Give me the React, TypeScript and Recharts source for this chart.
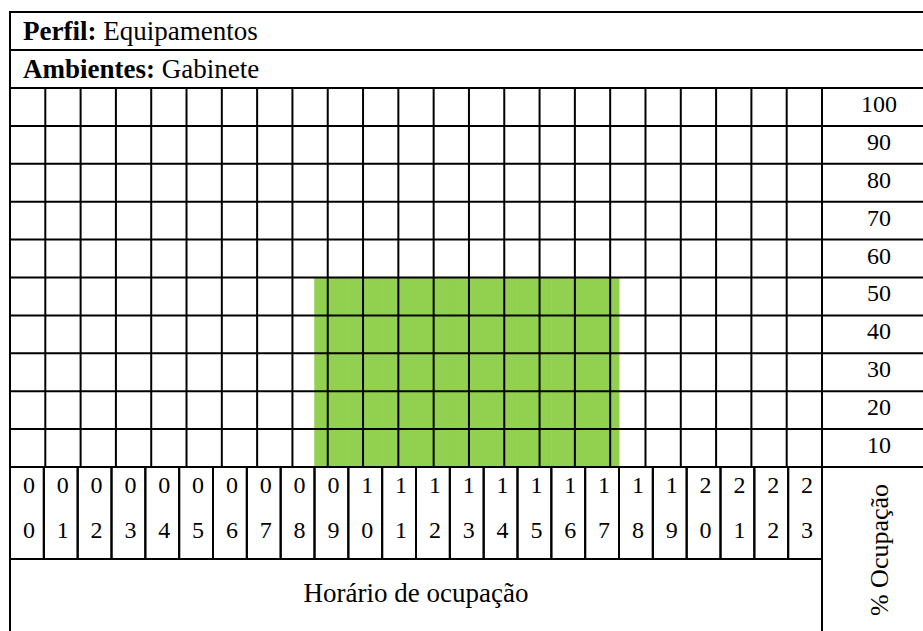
import React from "react";
import { BarChart, Bar, XAxis, YAxis, ReferenceLine } from "recharts";

const hours = [
  "00", "01", "02", "03", "04", "05", "06", "07", "08", "09", "10", "11",
  "12", "13", "14", "15", "16", "17", "18", "19", "20", "21", "22", "23",
];
const occupation = [
  0, 0, 0, 0, 0, 0, 0, 0, 0, 50, 50, 50,
  50, 50, 50, 50, 50, 50, 0, 0, 0, 0, 0, 0,
];
const percentTicks = [0, 10, 20, 30, 40, 50, 60, 70, 80, 90, 100];

const data = hours.map((hour, i) => ({ hour, value: occupation[i] }));
const hourEdges = [...hours.map((_, i) => i), hours.length];

const W = 923;
const H = 631;
const PLOT_LEFT = 10;
const PLOT_TOP = 88;
const PLOT_RIGHT = 822;
const PLOT_BOTTOM = 467;
const LABEL_ROWS_H = 92;
const FRAME_RIGHT = 936;
const BAND = (PLOT_RIGHT - PLOT_LEFT) / hours.length;
const ROW_H = (PLOT_BOTTOM - PLOT_TOP) / 10;
const FONT = '"Liberation Serif", "Times New Roman", serif';
const FS = 24;
const TEXT_FS = 27;

function HourTick({ x, payload }: any) {
  const [a, b] = String(payload.value).split("");
  return (
    <g>
      <rect
        x={x - BAND / 2}
        y={PLOT_BOTTOM}
        width={BAND}
        height={LABEL_ROWS_H}
        fill="none"
        stroke="#000"
        strokeWidth={2}
      />
      <text x={x + 2} y={PLOT_BOTTOM + 26} textAnchor="middle" fontSize={FS} fontFamily={FONT} fill="#000">
        {a}
      </text>
      <text x={x + 2} y={PLOT_BOTTOM + 71} textAnchor="middle" fontSize={FS} fontFamily={FONT} fill="#000">
        {b}
      </text>
    </g>
  );
}

function PercentTick({ y, payload }: any) {
  if (!payload.value) return <g />;
  return (
    <text
      x={(PLOT_RIGHT + FRAME_RIGHT) / 2}
      y={y + ROW_H / 2 + 5}
      textAnchor="middle"
      fontSize={FS}
      fontFamily={FONT}
      fill="#000"
    >
      {payload.value}
    </text>
  );
}

const line = (l: number, t: number, w: number, h: number): React.CSSProperties => ({
  position: "absolute",
  left: l,
  top: t,
  width: w,
  height: h,
  background: "#000",
});

export default function App() {
  return (
    <div
      style={{
        position: "fixed",
        left: 0,
        top: 0,
        width: W,
        height: H,
        overflow: "hidden",
        background: "#fff",
        fontFamily: FONT,
        fontSize: TEXT_FS,
        color: "#000",
      }}
    >
      <div
        style={{
          position: "absolute",
          left: 9,
          top: 11,
          width: FRAME_RIGHT + 1 - 9,
          height: 634 - 11,
          border: "2px solid #000",
          boxSizing: "border-box",
        }}
      />
      <div style={line(9, 49, FRAME_RIGHT - 8, 2)} />
      <div style={line(9, 87, FRAME_RIGHT - 8, 2)} />
      <div style={line(PLOT_RIGHT - 1, PLOT_BOTTOM, 2, 170)} />

      <div style={{ position: "absolute", left: 23, top: 13, height: 36, lineHeight: "36px", whiteSpace: "nowrap" }}>
        <b>Perfil:</b> Equipamentos
      </div>
      <div style={{ position: "absolute", left: 23, top: 51, height: 36, lineHeight: "36px", whiteSpace: "nowrap" }}>
        <b>Ambientes:</b> Gabinete
      </div>
      <div
        style={{
          position: "absolute",
          left: PLOT_LEFT,
          width: PLOT_RIGHT - PLOT_LEFT,
          top: 558,
          height: 70,
          lineHeight: "70px",
          textAlign: "center",
          whiteSpace: "nowrap",
        }}
      >
        Horário de ocupação
      </div>
      <div
        style={{
          position: "absolute",
          left: (PLOT_RIGHT + FRAME_RIGHT) / 2 + 1,
          top: 550,
          transform: "translate(-50%, -50%) rotate(-90deg)",
          whiteSpace: "nowrap",
          lineHeight: "28px",
          fontSize: 26,
        }}
      >
        % Ocupação
      </div>

      <div style={{ position: "absolute", left: 0, top: 0 }}>
        <BarChart
          width={W}
          height={H}
          data={data}
          barCategoryGap={0}
          margin={{ top: PLOT_TOP, left: PLOT_LEFT, right: 0, bottom: H - PLOT_BOTTOM - LABEL_ROWS_H }}
          style={{ fontFamily: FONT }}
        >
          <XAxis
            dataKey="hour"
            height={LABEL_ROWS_H}
            interval={0}
            tickLine={false}
            axisLine={false}
            tick={<HourTick />}
          />
          <XAxis xAxisId="edge" type="number" domain={[0, hours.length]} hide />
          <YAxis
            orientation="right"
            width={W - PLOT_RIGHT}
            domain={[0, 100]}
            ticks={percentTicks}
            interval={0}
            tickSize={FRAME_RIGHT - PLOT_RIGHT}
            tickLine={{ stroke: "#000", strokeWidth: 2 }}
            axisLine={{ stroke: "#000", strokeWidth: 2 }}
            tick={<PercentTick />}
          />
          <Bar dataKey="value" fill="#92D050" stroke="#92D050" strokeWidth={0.5} isAnimationActive={false} />
          {percentTicks.map((v) => (
            <ReferenceLine key={"h" + v} y={v} stroke="#000" strokeWidth={2} />
          ))}
          {hourEdges.map((e) => (
            <ReferenceLine key={"v" + e} xAxisId="edge" x={e} stroke="#000" strokeWidth={2} />
          ))}
        </BarChart>
      </div>
    </div>
  );
}
